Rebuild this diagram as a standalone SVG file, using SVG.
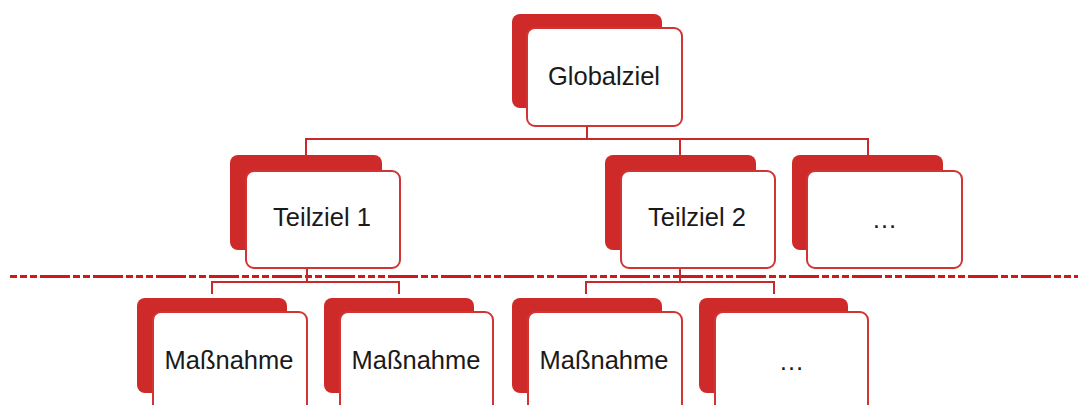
<svg xmlns="http://www.w3.org/2000/svg" width="1078" height="405" viewBox="0 0 1078 405">
<style>
.back{fill:#cf2a2a}
.front{fill:#ffffff;stroke:#d23434;stroke-width:2}
.lbl{font-family:"Liberation Sans",Arial,sans-serif;font-size:25.5px;fill:#1a1a1a;text-anchor:middle}
.con{fill:none;stroke:#c62a2a;stroke-width:2}
.sep{fill:none;stroke:#d01818;stroke-width:3;stroke-dasharray:7 3 7 3 7 3 30 3 7 3 7 3 30 3}
</style>
<rect width="1078" height="405" fill="#ffffff"/>
<line class="sep" x1="10" y1="276.5" x2="1078" y2="276.5"/>
<g id="connectors">
<polyline class="con" points="587,126 587,139"/>
<polyline class="con" points="306,155 306,139 868,139 868,155"/>
<line class="con" x1="680" y1="139" x2="680" y2="155"/>
<polyline class="con" points="307,268 307,282"/>
<polyline class="con" points="212,294 212,282 399,282 399,294"/>
<polyline class="con" points="680,268 680,282"/>
<polyline class="con" points="586,294 586,282 774,282 774,294"/>
</g>
<g id="globalziel">
<rect class="back" x="512" y="14" width="150" height="94" rx="8"/>
<rect class="front" x="527" y="28" width="155" height="98" rx="8"/>
<text class="lbl" x="604" y="85">Globalziel</text>
</g>
<g id="teilziel1">
<rect class="back" x="230" y="155" width="152" height="95" rx="8"/>
<rect class="front" x="246" y="171" width="154" height="97" rx="8"/>
<text class="lbl" x="322" y="226">Teilziel 1</text>
</g>
<g id="teilziel2">
<rect class="back" x="605" y="155" width="151" height="95" rx="8"/>
<rect class="front" x="621" y="171" width="154" height="97" rx="8"/>
<text class="lbl" x="697" y="226">Teilziel 2</text>
</g>
<g id="teilziel3">
<rect class="back" x="792" y="155" width="151" height="95" rx="8"/>
<rect class="front" x="807" y="171" width="155" height="97" rx="8"/>
<text class="lbl" x="884.5" y="228">…</text>
</g>
<g id="massnahme1">
<rect class="back" x="137" y="298" width="150" height="95" rx="8"/>
<rect class="front" x="153" y="312" width="154" height="110" rx="8"/>
<text class="lbl" x="229" y="369">Maßnahme</text>
</g>
<g id="massnahme2">
<rect class="back" x="324" y="298" width="150" height="95" rx="8"/>
<rect class="front" x="340" y="312" width="153" height="110" rx="8"/>
<text class="lbl" x="416" y="369">Maßnahme</text>
</g>
<g id="massnahme3">
<rect class="back" x="512" y="298" width="150" height="95" rx="8"/>
<rect class="front" x="528" y="312" width="154" height="110" rx="8"/>
<text class="lbl" x="604" y="369">Maßnahme</text>
</g>
<g id="massnahme4">
<rect class="back" x="699" y="298" width="149" height="95" rx="8"/>
<rect class="front" x="715" y="312" width="153" height="110" rx="8"/>
<text class="lbl" x="791.5" y="370">…</text>
</g>
</svg>
